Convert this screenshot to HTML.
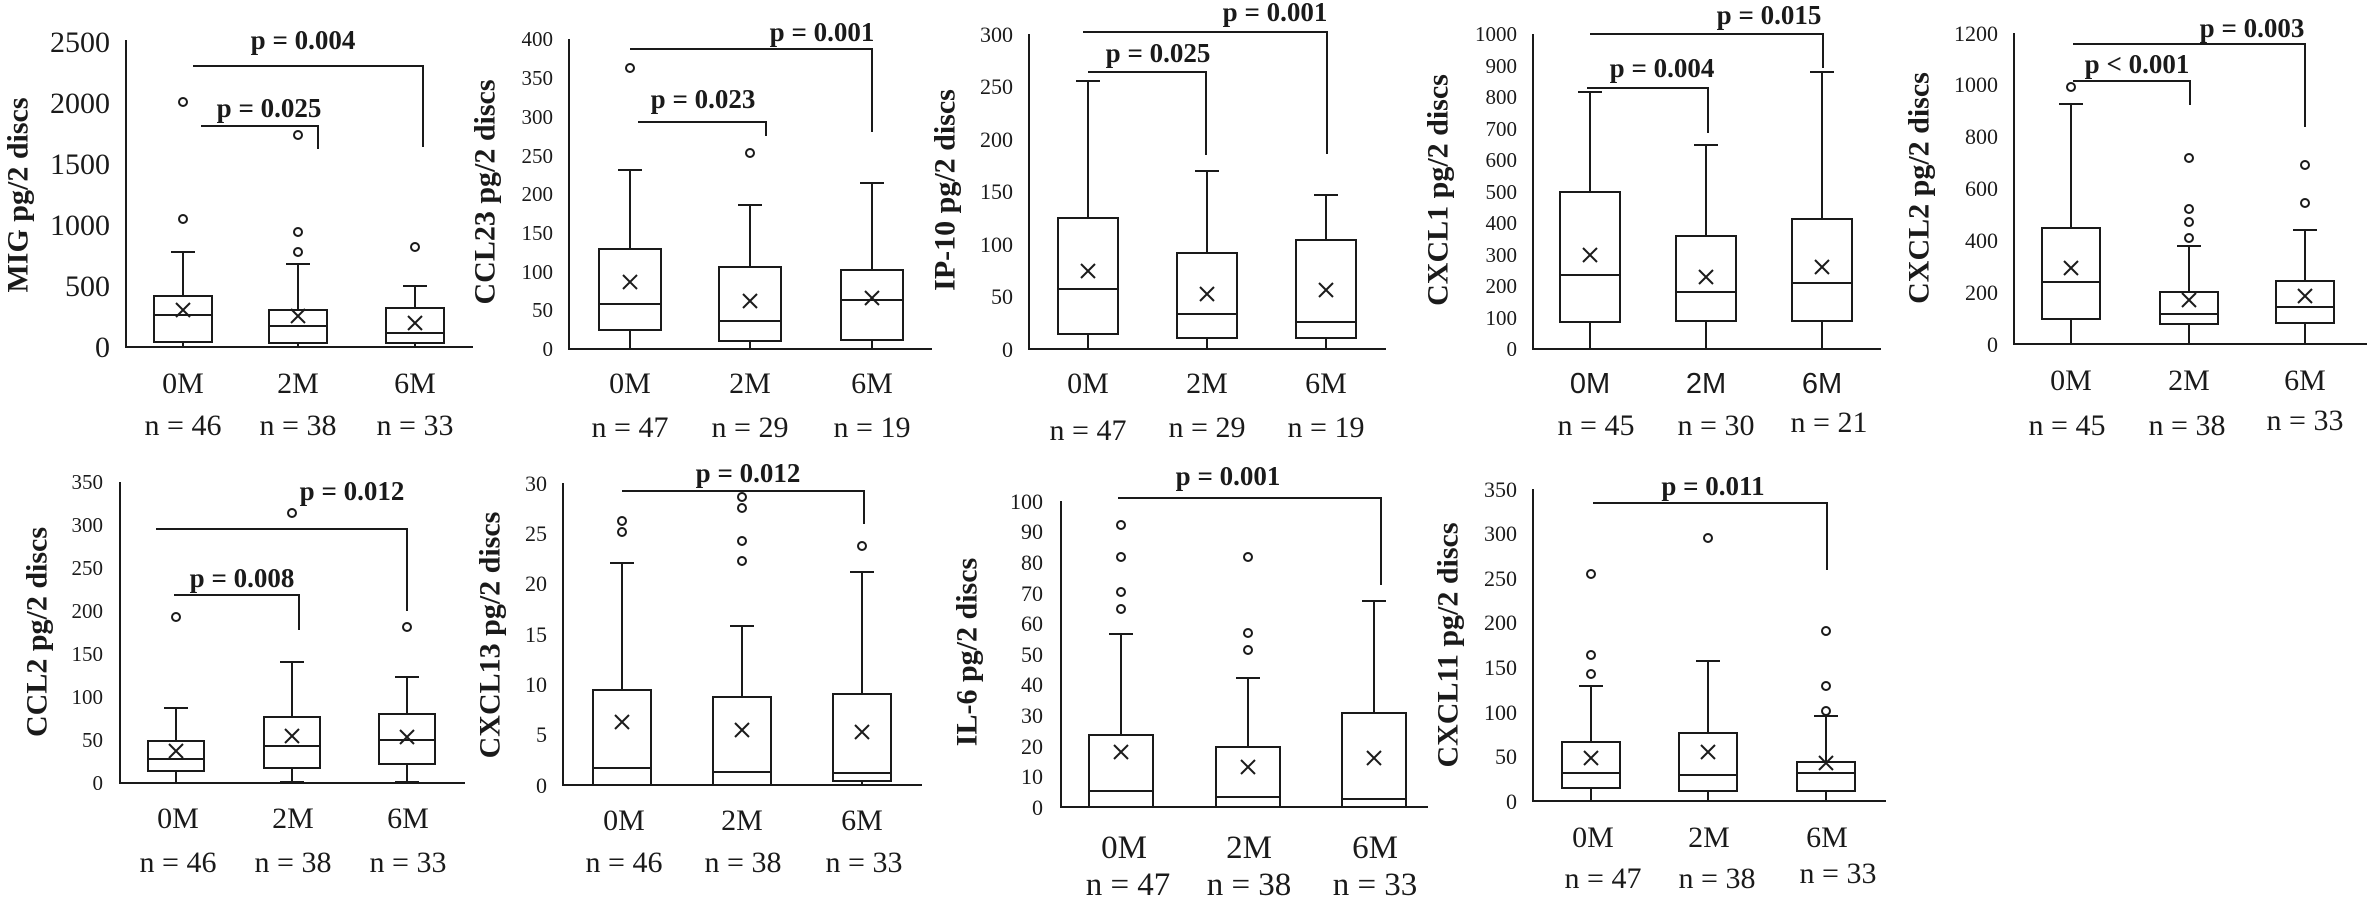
<!DOCTYPE html>
<html><head><meta charset="utf-8"><style>
html,body{margin:0;padding:0;background:#fff;}
svg{display:block;}
text{font-family:"Liberation Serif",serif;fill:#1a1a1a;}
.b{font-weight:bold;font-size:27px;text-anchor:middle;}
.y{font-weight:bold;font-size:30px;text-anchor:middle;dominant-baseline:central;}
.c{font-size:30px;text-anchor:middle;}
.s{font-family:"Liberation Sans",sans-serif;font-size:29px;text-anchor:middle;}
.t{text-anchor:end;}
path,rect,circle{fill:none;stroke:#1a1a1a;stroke-width:2;}
</style></head><body>
<svg width="2367" height="900" viewBox="0 0 2367 900" xmlns="http://www.w3.org/2000/svg">
<rect x="0" y="0" width="2367" height="900" style="fill:#fff;stroke:none"/>

<!-- Panel 1 MIG -->
<path d="M126 40V347H473"/>
<g class="t" style="font-size:30px">
<text x="110" y="357" class="t">0</text><text x="110" y="296" class="t">500</text><text x="110" y="235" class="t">1000</text><text x="110" y="174" class="t">1500</text><text x="110" y="113" class="t">2000</text><text x="110" y="52" class="t">2500</text>
</g>
<rect x="154" y="296" width="58" height="46"/><path d="M171 252H195M183 252V296M183 342V347M154 315H212M176 303l14 14M190 303l-14 14"/>
<rect x="269" y="310" width="58" height="33"/><path d="M286 264H310M298 264V310M298 343V347M269 326H327M291 309l14 14M305 309l-14 14"/>
<rect x="386" y="308" width="58" height="35"/><path d="M403 286H427M415 286V308M415 343V347M386 333H444M408 316l14 14M422 316l-14 14"/>
<circle cx="183" cy="219" r="4"/><circle cx="183" cy="102" r="4"/><circle cx="298" cy="252" r="4"/><circle cx="298" cy="232" r="4"/><circle cx="298" cy="135" r="4"/><circle cx="415" cy="247" r="4"/>
<path d="M201 126H318V149M193 66H423V147"/>
<text class="b" x="269" y="117">p = 0.025</text><text class="b" x="303" y="49">p = 0.004</text>
<text class="c" x="183" y="393">0M</text><text class="c" x="298" y="393">2M</text><text class="c" x="415" y="393">6M</text>
<text class="c" x="183" y="435">n = 46</text><text class="c" x="298" y="435">n = 38</text><text class="c" x="415" y="435">n = 33</text>
<text class="y" transform="translate(18,195) rotate(-90)">MIG pg/2 discs</text>

<!-- Panel 2 CCL23 -->
<path d="M569 39V349H932"/>
<g style="font-size:21px">
<text class="t" x="553" y="356">0</text><text class="t" x="553" y="317">50</text><text class="t" x="553" y="279">100</text><text class="t" x="553" y="240">150</text><text class="t" x="553" y="201">200</text><text class="t" x="553" y="163">250</text><text class="t" x="553" y="124">300</text><text class="t" x="553" y="85">350</text><text class="t" x="553" y="46">400</text>
</g>
<rect x="599" y="249" width="62" height="81"/><path d="M618 170H642M630 170V249M630 330V349M599 304H661M623 275l14 14M637 275l-14 14"/>
<rect x="719" y="267" width="62" height="74"/><path d="M738 205H762M750 205V267M750 341V349M719 321H781M743 294l14 14M757 294l-14 14"/>
<rect x="841" y="270" width="62" height="70"/><path d="M860 183H884M872 183V270M872 340V349M841 300H903M865 291l14 14M879 291l-14 14"/>
<circle cx="630" cy="68" r="4"/><circle cx="750" cy="153" r="4"/>
<path d="M638 122H766V136M630 49H872V132"/>
<text class="b" x="703" y="108">p = 0.023</text><text class="b" x="822" y="41">p = 0.001</text>
<text class="c" x="630" y="393">0M</text><text class="c" x="750" y="393">2M</text><text class="c" x="872" y="393">6M</text>
<text class="c" x="630" y="437">n = 47</text><text class="c" x="750" y="437">n = 29</text><text class="c" x="872" y="437">n = 19</text>
<text class="y" transform="translate(485,192) rotate(-90)">CCL23 pg/2 discs</text>

<!-- Panel 3 IP-10 -->
<path d="M1029 34V349H1386"/>
<g style="font-size:22px">
<text class="t" x="1013" y="357">0</text><text class="t" x="1013" y="304">50</text><text class="t" x="1013" y="252">100</text><text class="t" x="1013" y="199">150</text><text class="t" x="1013" y="147">200</text><text class="t" x="1013" y="94">250</text><text class="t" x="1013" y="42">300</text>
</g>
<rect x="1058" y="218" width="60" height="116"/><path d="M1076 81H1100M1088 81V218M1088 334V349M1058 289H1118M1081 264l14 14M1095 264l-14 14"/>
<rect x="1177" y="253" width="60" height="85"/><path d="M1195 171H1219M1207 171V253M1207 338V349M1177 314H1237M1200 287l14 14M1214 287l-14 14"/>
<rect x="1296" y="240" width="60" height="98"/><path d="M1314 195H1338M1326 195V240M1326 338V349M1296 322H1356M1319 283l14 14M1333 283l-14 14"/>
<path d="M1088 72H1206V155M1083 32H1327V154"/>
<text class="b" x="1158" y="62">p = 0.025</text><text class="b" x="1275" y="21">p = 0.001</text>
<text class="c" x="1088" y="393">0M</text><text class="c" x="1207" y="393">2M</text><text class="c" x="1326" y="393">6M</text>
<text class="c" x="1088" y="440">n = 47</text><text class="c" x="1207" y="437">n = 29</text><text class="c" x="1326" y="437">n = 19</text>
<text class="y" transform="translate(945,190) rotate(-90)">IP-10 pg/2 discs</text>

<!-- Panel 4 CXCL1 -->
<path d="M1533 34V349H1881"/>
<g style="font-size:21px">
<text class="t" x="1517" y="356">0</text><text class="t" x="1517" y="325">100</text><text class="t" x="1517" y="293">200</text><text class="t" x="1517" y="262">300</text><text class="t" x="1517" y="230">400</text><text class="t" x="1517" y="199">500</text><text class="t" x="1517" y="167">600</text><text class="t" x="1517" y="136">700</text><text class="t" x="1517" y="104">800</text><text class="t" x="1517" y="73">900</text><text class="t" x="1517" y="41">1000</text>
</g>
<rect x="1560" y="192" width="60" height="130"/><path d="M1578 92H1602M1590 92V192M1590 322V349M1560 275H1620M1583 248l14 14M1597 248l-14 14"/>
<rect x="1676" y="236" width="60" height="85"/><path d="M1694 145H1718M1706 145V236M1706 321V349M1676 292H1736M1699 270l14 14M1713 270l-14 14"/>
<rect x="1792" y="219" width="60" height="102"/><path d="M1810 72H1834M1822 72V219M1822 321V349M1792 283H1852M1815 260l14 14M1829 260l-14 14"/>
<path d="M1587 88H1708V133M1590 34H1823V68"/>
<text class="b" x="1662" y="77">p = 0.004</text><text class="b" x="1769" y="24">p = 0.015</text>
<text class="s" x="1590" y="393">0M</text><text class="s" x="1706" y="393">2M</text><text class="s" x="1822" y="393">6M</text>
<text class="c" x="1596" y="435">n = 45</text><text class="c" x="1716" y="435">n = 30</text><text class="c" x="1829" y="432">n = 21</text>
<text class="y" transform="translate(1438,190) rotate(-90)">CXCL1 pg/2 discs</text>

<!-- Panel 5 CXCL2 -->
<path d="M2014 33V344H2367"/>
<g style="font-size:22px">
<text class="t" x="1998" y="352">0</text><text class="t" x="1998" y="300">200</text><text class="t" x="1998" y="248">400</text><text class="t" x="1998" y="196">600</text><text class="t" x="1998" y="144">800</text><text class="t" x="1998" y="92">1000</text><text class="t" x="1998" y="41">1200</text>
</g>
<rect x="2042" y="228" width="58" height="91"/><path d="M2059 104H2083M2071 104V228M2071 319V344M2042 282H2100M2064 261l14 14M2078 261l-14 14"/>
<rect x="2160" y="292" width="58" height="32"/><path d="M2177 246H2201M2189 246V292M2189 324V344M2160 314H2218M2182 293l14 14M2196 293l-14 14"/>
<rect x="2276" y="281" width="58" height="42"/><path d="M2293 230H2317M2305 230V281M2305 323V344M2276 307H2334M2298 289l14 14M2312 289l-14 14"/>
<circle cx="2071" cy="87" r="4"/><circle cx="2189" cy="158" r="4"/><circle cx="2189" cy="209" r="4"/><circle cx="2189" cy="222" r="4"/><circle cx="2189" cy="238" r="4"/><circle cx="2305" cy="165" r="4"/><circle cx="2305" cy="203" r="4"/>
<path d="M2073 81H2190V105M2073 44H2305V127"/>
<text class="b" x="2137" y="73">p &lt; 0.001</text><text class="b" x="2252" y="37">p = 0.003</text>
<text class="c" x="2071" y="390">0M</text><text class="c" x="2189" y="390">2M</text><text class="c" x="2305" y="390">6M</text>
<text class="c" x="2067" y="435">n = 45</text><text class="c" x="2187" y="435">n = 38</text><text class="c" x="2305" y="430">n = 33</text>
<text class="y" transform="translate(1919,188) rotate(-90)">CXCL2 pg/2 discs</text>

<!-- Panel 6 CCL2 -->
<path d="M120 482V783H465"/>
<g style="font-size:21px">
<text class="t" x="103" y="790">0</text><text class="t" x="103" y="747">50</text><text class="t" x="103" y="704">100</text><text class="t" x="103" y="661">150</text><text class="t" x="103" y="618">200</text><text class="t" x="103" y="575">250</text><text class="t" x="103" y="532">300</text><text class="t" x="103" y="489">350</text>
</g>
<rect x="148" y="741" width="56" height="30"/><path d="M164 708H188M176 708V741M176 771V783M148 759H204M169 744l14 14M183 744l-14 14"/>
<rect x="264" y="717" width="56" height="51"/><path d="M280 662H304M292 662V717M292 768V783M280 782H304M264 746H320M285 729l14 14M299 729l-14 14"/>
<rect x="379" y="714" width="56" height="50"/><path d="M395 677H419M407 677V714M407 764V783M395 782H419M379 740H435M400 730l14 14M414 730l-14 14"/>
<circle cx="176" cy="617" r="4"/><circle cx="292" cy="513" r="4"/><circle cx="407" cy="627" r="4"/>
<path d="M174 595H299V630M156 529H407V611"/>
<text class="b" x="242" y="587">p = 0.008</text><text class="b" x="352" y="500">p = 0.012</text>
<text class="c" x="178" y="828">0M</text><text class="c" x="293" y="828">2M</text><text class="c" x="408" y="828">6M</text>
<text class="c" x="178" y="872">n = 46</text><text class="c" x="293" y="872">n = 38</text><text class="c" x="408" y="872">n = 33</text>
<text class="y" transform="translate(37,632) rotate(-90)">CCL2 pg/2 discs</text>

<!-- Panel 7 CXCL13 -->
<path d="M563 483V785H922"/>
<g style="font-size:22px">
<text class="t" x="547" y="793">0</text><text class="t" x="547" y="742">5</text><text class="t" x="547" y="692">10</text><text class="t" x="547" y="642">15</text><text class="t" x="547" y="591">20</text><text class="t" x="547" y="541">25</text><text class="t" x="547" y="491">30</text>
</g>
<rect x="593" y="690" width="58" height="95"/><path d="M610 563H634M622 563V690M593 768H651M615 715l14 14M629 715l-14 14"/>
<rect x="713" y="697" width="58" height="88"/><path d="M730 626H754M742 626V697M713 772H771M735 723l14 14M749 723l-14 14"/>
<rect x="833" y="694" width="58" height="87"/><path d="M850 572H874M862 572V694M862 781V785M833 773H891M855 725l14 14M869 725l-14 14"/>
<circle cx="622" cy="521" r="4"/><circle cx="622" cy="532" r="4"/><circle cx="742" cy="497" r="4"/><circle cx="742" cy="508" r="4"/><circle cx="742" cy="541" r="4"/><circle cx="742" cy="561" r="4"/><circle cx="862" cy="546" r="4"/>
<path d="M622 491H864V524"/>
<text class="b" x="748" y="482">p = 0.012</text>
<text class="c" x="624" y="830">0M</text><text class="c" x="742" y="830">2M</text><text class="c" x="862" y="830">6M</text>
<text class="c" x="624" y="872">n = 46</text><text class="c" x="743" y="872">n = 38</text><text class="c" x="864" y="872">n = 33</text>
<text class="y" transform="translate(490,635) rotate(-90)">CXCL13 pg/2 discs</text>

<!-- Panel 8 IL-6 -->
<path d="M1061 501V807H1428"/>
<g style="font-size:22px">
<text class="t" x="1043" y="815">0</text><text class="t" x="1043" y="784">10</text><text class="t" x="1043" y="754">20</text><text class="t" x="1043" y="723">30</text><text class="t" x="1043" y="692">40</text><text class="t" x="1043" y="662">50</text><text class="t" x="1043" y="631">60</text><text class="t" x="1043" y="601">70</text><text class="t" x="1043" y="570">80</text><text class="t" x="1043" y="539">90</text><text class="t" x="1043" y="509">100</text>
</g>
<rect x="1089" y="735" width="64" height="72"/><path d="M1109 634H1133M1121 634V735M1089 791H1153M1114 745l14 14M1128 745l-14 14"/>
<rect x="1216" y="747" width="64" height="60"/><path d="M1236 678H1260M1248 678V747M1216 797H1280M1241 760l14 14M1255 760l-14 14"/>
<rect x="1342" y="713" width="64" height="94"/><path d="M1362 601H1386M1374 601V713M1342 799H1406M1367 751l14 14M1381 751l-14 14"/>
<circle cx="1121" cy="525" r="4"/><circle cx="1121" cy="557" r="4"/><circle cx="1121" cy="592" r="4"/><circle cx="1121" cy="609" r="4"/><circle cx="1248" cy="557" r="4"/><circle cx="1248" cy="633" r="4"/><circle cx="1248" cy="650" r="4"/>
<path d="M1118 498H1381V585"/>
<text class="b" x="1228" y="485">p = 0.001</text>
<text class="c" x="1124" y="858" style="font-size:33px">0M</text><text class="c" x="1249" y="858" style="font-size:33px">2M</text><text class="c" x="1375" y="858" style="font-size:33px">6M</text>
<text class="c" x="1128" y="895" style="font-size:33px">n = 47</text><text class="c" x="1249" y="895" style="font-size:33px">n = 38</text><text class="c" x="1375" y="895" style="font-size:33px">n = 33</text>
<text class="y" transform="translate(967,652) rotate(-90)">IL-6 pg/2 discs</text>

<!-- Panel 9 CXCL11 -->
<path d="M1533 489V801H1886"/>
<g style="font-size:22px">
<text class="t" x="1517" y="809">0</text><text class="t" x="1517" y="764">50</text><text class="t" x="1517" y="720">100</text><text class="t" x="1517" y="675">150</text><text class="t" x="1517" y="630">200</text><text class="t" x="1517" y="586">250</text><text class="t" x="1517" y="541">300</text><text class="t" x="1517" y="497">350</text>
</g>
<rect x="1562" y="742" width="58" height="46"/><path d="M1579 686H1603M1591 686V742M1591 788V801M1562 773H1620M1584 751l14 14M1598 751l-14 14"/>
<rect x="1679" y="733" width="58" height="58"/><path d="M1696 661H1720M1708 661V733M1708 791V801M1679 775H1737M1701 745l14 14M1715 745l-14 14"/>
<rect x="1797" y="762" width="58" height="29"/><path d="M1814 716H1838M1826 716V762M1826 791V801M1797 773H1855M1819 756l14 14M1833 756l-14 14"/>
<circle cx="1591" cy="574" r="4"/><circle cx="1591" cy="655" r="4"/><circle cx="1591" cy="674" r="4"/><circle cx="1708" cy="538" r="4"/><circle cx="1826" cy="631" r="4"/><circle cx="1826" cy="686" r="4"/><circle cx="1826" cy="711" r="4"/>
<path d="M1593 503H1827V570"/>
<text class="b" x="1713" y="495">p = 0.011</text>
<text class="c" x="1593" y="847">0M</text><text class="c" x="1709" y="847">2M</text><text class="c" x="1827" y="847">6M</text>
<text class="c" x="1603" y="888">n = 47</text><text class="c" x="1717" y="888">n = 38</text><text class="c" x="1838" y="883">n = 33</text>
<text class="y" transform="translate(1448,645) rotate(-90)">CXCL11 pg/2 discs</text>
</svg>
</body></html>
